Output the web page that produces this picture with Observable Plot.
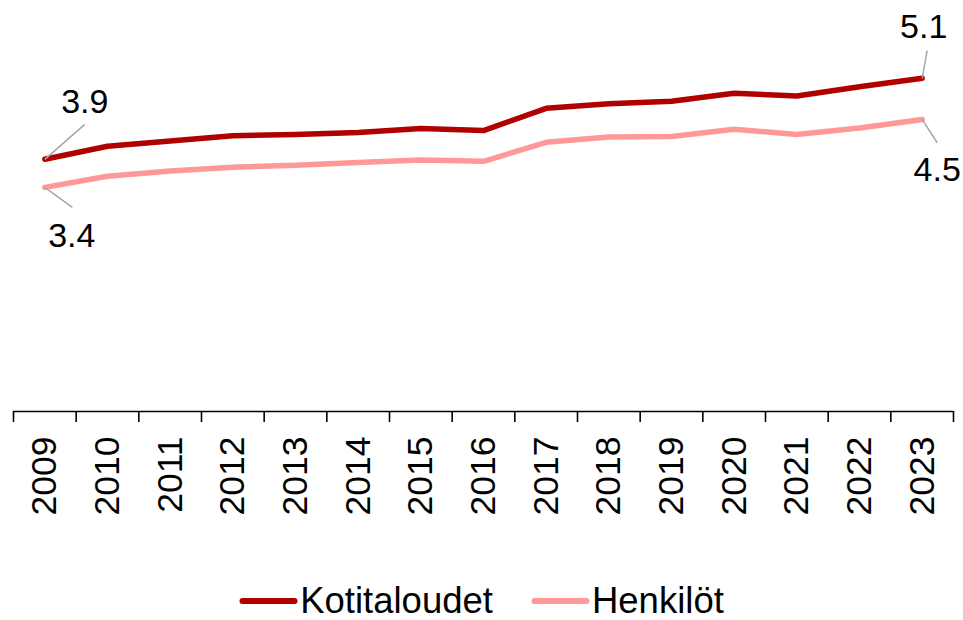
<!DOCTYPE html>
<html>
<head>
<meta charset="utf-8">
<script src="https://cdn.jsdelivr.net/npm/d3@7"></script>
<script src="https://cdn.jsdelivr.net/npm/@observablehq/plot@0.6"></script>
<style>
  html, body { margin: 0; background: #fff; font-family: "Liberation Sans", Arial, sans-serif; overflow: hidden; }
  #legend { display: flex; justify-content: center; align-items: center; height: 35px; line-height: 35px; padding-top: 38px; font-size: 36.5px; color: #000; }
  .item { display: flex; align-items: center; margin: 0 19px; }
  .item svg { margin-right: 2px; }
</style>
</head>
<body>
<div id="chart"></div>
<div id="legend"></div>
<script>
// ---- data ----
const years = [2009, 2010, 2011, 2012, 2013, 2014, 2015, 2016, 2017, 2018, 2019, 2020, 2021, 2022, 2023];
const kotitaloudet = [3.86, 4.06, 4.14, 4.22, 4.24, 4.27, 4.33, 4.30, 4.64, 4.71, 4.75, 4.87, 4.83, 4.97, 5.10];
const henkilot = [3.43, 3.60, 3.68, 3.74, 3.77, 3.81, 3.85, 3.83, 4.12, 4.20, 4.21, 4.32, 4.24, 4.34, 4.47];
const seriesNames = ["Kotitaloudet", "Henkilöt"];
const seriesColors = ["#b00000", "#ff9999"];

// ---- layout (pixels) ----
const W = 963, H = 545;
const mL = 13, mR = 10, mT = 19, mB = 134;
const yMax = 6;
const pxPerYear = (W - mL - mR) / years.length;
const pxPerUnit = (H - mT - mB) / yMax;

const rows = [];
years.forEach((yr, i) => {
  rows.push({year: yr, value: kotitaloudet[i], series: seriesNames[0]});
  rows.push({year: yr, value: henkilot[i], series: seriesNames[1]});
});

// end-point annotations: leader offset px (lx, ly), label offset px (tx, ty)
const first = 0, last = years.length - 1;
const annots = [
  {i: first, s: kotitaloudet, lx: 40, ly: -35, tx: 40, ty: -46},
  {i: first, s: henkilot, lx: 27.5, ly: 20, tx: 27, ty: 60},
  {i: last, s: kotitaloudet, lx: 5, ly: -27.6, tx: 1.5, ty: -40},
  {i: last, s: henkilot, lx: 15, ly: 23.3, tx: 15, ty: 62}
].map(a => ({
  x: years[a.i], y: a.s[a.i],
  x2: years[a.i] + a.lx / pxPerYear, y2: a.s[a.i] - a.ly / pxPerUnit,
  tx: a.tx, ty: a.ty, label: a.s[a.i].toFixed(1)
}));

const boundaries = years.map(y => y - 0.5).concat([years[last] + 0.5]);

const chart = Plot.plot({
  width: W, height: H,
  marginLeft: mL, marginRight: mR, marginTop: mT, marginBottom: mB,
  style: {fontFamily: "'Liberation Sans', Arial, sans-serif", color: "#000", background: "#fff"},
  x: {type: "linear", domain: [years[0] - 0.5, years[last] + 0.5]},
  y: {domain: [0, yMax], axis: null},
  color: {domain: seriesNames, range: seriesColors},
  marks: [
    Plot.ruleY([0], {stroke: "#000", strokeWidth: 1.6}),
    Plot.axisX({ticks: boundaries, tickSize: 11, tickFormat: () => "", stroke: "#000", strokeWidth: 1.6}),
    Plot.axisX({ticks: years, tickSize: 0, tickRotate: -90, tickPadding: 25, tickFormat: d => String(d), fontSize: 35.5, fill: "#000"}),
    Plot.line(rows, {x: "year", y: "value", z: "series", stroke: "series", strokeWidth: 5.5, strokeLinecap: "round", strokeLinejoin: "round"}),
    Plot.link(annots, {x1: "x", y1: "y", x2: "x2", y2: "y2", stroke: "#a6a6a6", strokeWidth: 1.5}),
    ...annots.map(a => Plot.text([a], {x: "x", y: "y", text: "label", dx: a.tx, dy: a.ty, lineAnchor: "bottom", textAnchor: "middle", fontSize: 34, fill: "#000"}))
  ]
});
document.getElementById("chart").appendChild(chart);

const legend = document.getElementById("legend");
seriesNames.forEach((name, i) => {
  const item = document.createElement("div");
  item.className = "item";
  item.innerHTML = `<svg width="59" height="12"><line x1="3.5" y1="6" x2="55.5" y2="6" stroke="${seriesColors[i]}" stroke-width="6" stroke-linecap="round"/></svg><span>${name}</span>`;
  legend.appendChild(item);
});
</script>
</body>
</html>
